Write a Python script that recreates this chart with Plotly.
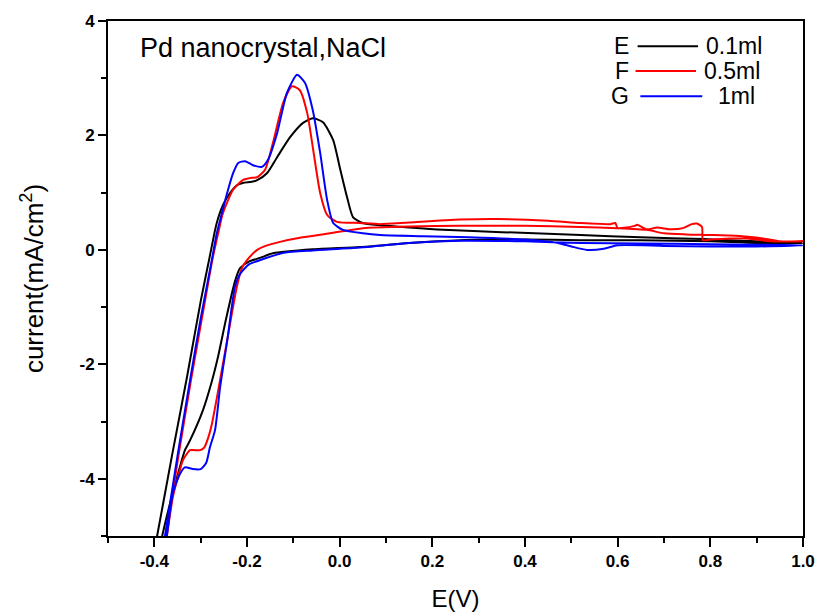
import plotly.graph_objects as go

# ---------------- data ----------------
# E : 0.1 ml  (black)
E_x = [-0.400, -0.394, -0.362, -0.329, -0.300, -0.280, -0.266, -0.252, -0.237, -0.222,
       -0.209, -0.190, -0.178, -0.157, -0.135, -0.107, -0.079, -0.058, -0.036, -0.014,
       0.000, 0.016, 0.029, 0.050, 0.087, 0.150, 0.223, 0.350, 0.520, 0.650,
       0.784, 0.900, 1.000,
       0.900, 0.800, 0.650, 0.520, 0.400, 0.260, 0.150, 0.044, -0.058, -0.144,
       -0.172, -0.195, -0.215, -0.226, -0.245, -0.262, -0.276, -0.295, -0.323, -0.334,
       -0.345, -0.362, -0.383, -0.389]
E_y = [-5.25, -5.00, -3.60, -2.20, -0.90, -0.10, 0.45, 0.78, 0.99, 1.13,
       1.17, 1.19, 1.22, 1.34, 1.62, 1.97, 2.22, 2.30, 2.23, 1.92,
       1.45, 0.92, 0.57, 0.47, 0.43, 0.39, 0.35, 0.31, 0.26, 0.22,
       0.19, 0.15, 0.12,
       0.12, 0.15, 0.17, 0.17, 0.18, 0.17, 0.12, 0.05, 0.01, -0.06,
       -0.14, -0.20, -0.32, -0.55, -1.20, -1.85, -2.30, -2.80, -3.33, -3.50,
       -3.80, -4.30, -5.00, -5.25]

# F : 0.5 ml  (red)
F_x = [-0.381, -0.375, -0.348, -0.321, -0.293, -0.275, -0.262, -0.252, -0.230, -0.209,
       -0.190, -0.178, -0.161, -0.144, -0.122, -0.103, -0.086, -0.070, -0.057, -0.042,
       -0.027, -0.006, 0.044, 0.087, 0.150, 0.260, 0.340, 0.450, 0.519, 0.584,
       0.595, 0.600, 0.637, 0.642, 0.663, 0.685, 0.713, 0.741, 0.760, 0.771,
       0.782, 0.784, 0.800, 0.880, 0.930, 1.000,
       0.950, 0.914, 0.843, 0.747, 0.700, 0.663, 0.600, 0.519, 0.400, 0.260,
       0.150, 0.050, -0.021, -0.080, -0.129, -0.160, -0.178, -0.200, -0.211, -0.222,
       -0.240, -0.262, -0.276, -0.284, -0.292, -0.301, -0.312, -0.323, -0.338, -0.345,
       -0.360, -0.373, -0.378]
F_y = [-5.25, -5.00, -3.60, -2.28, -1.00, -0.18, 0.30, 0.64, 1.05, 1.22,
       1.26, 1.27, 1.40, 1.87, 2.57, 2.86, 2.79, 2.39, 1.74, 0.99,
       0.61, 0.49, 0.47, 0.45, 0.48, 0.53, 0.54, 0.51, 0.47, 0.45,
       0.47, 0.38, 0.42, 0.44, 0.36, 0.39, 0.36, 0.38, 0.45, 0.46,
       0.40, 0.17, 0.18, 0.20, 0.15, 0.15,
       0.15, 0.20, 0.25, 0.27, 0.29, 0.35, 0.38, 0.40, 0.42, 0.42,
       0.41, 0.38, 0.29, 0.22, 0.14, 0.07, 0.00, -0.18, -0.32, -0.65,
       -1.45, -2.45, -3.05, -3.29, -3.45, -3.50, -3.50, -3.50, -3.67, -3.85,
       -4.32, -5.00, -5.25]

# G : 1 ml  (blue)
G_x = [-0.382, -0.377, -0.350, -0.323, -0.300, -0.276, -0.265, -0.258, -0.243, -0.230,
       -0.219, -0.204, -0.187, -0.168, -0.155, -0.135, -0.114, -0.092, -0.075, -0.058,
       -0.042, -0.027, -0.014, 0.007, 0.050, 0.087, 0.180, 0.280, 0.400, 0.470,
       0.500, 0.534, 0.570, 0.600, 0.700, 0.800, 0.900, 1.000,
       0.900, 0.800, 0.650, 0.520, 0.400, 0.260, 0.150, 0.044, -0.058, -0.120,
       -0.165, -0.195, -0.215, -0.226, -0.242, -0.258, -0.269, -0.280, -0.288, -0.300,
       -0.317, -0.334, -0.345, -0.360, -0.373, -0.378]
G_y = [-5.25, -5.00, -3.60, -2.28, -1.20, -0.18, 0.30, 0.52, 0.99, 1.34,
       1.52, 1.55, 1.48, 1.45, 1.57, 2.04, 2.74, 3.06, 2.92, 2.44,
       1.69, 0.87, 0.47, 0.35, 0.29, 0.26, 0.24, 0.22, 0.18, 0.12,
       0.06, 0.00, 0.02, 0.08, 0.07, 0.06, 0.06, 0.08,
       0.09, 0.10, 0.11, 0.12, 0.15, 0.16, 0.12, 0.04, -0.01, -0.05,
       -0.16, -0.25, -0.42, -0.65, -1.55, -2.40, -3.15, -3.45, -3.72, -3.83,
       -3.83, -3.80, -3.92, -4.25, -5.00, -5.25]

series_letters = ["E", "F", "G"]
series_names = ["0.1ml", "0.5ml", "1ml"]
series_colors = ["#000000", "#ff0000", "#0000ff"]

x_tickvals = [-0.4, -0.2, 0.0, 0.2, 0.4, 0.6, 0.8, 1.0]
x_ticktext = ["-0.4", "-0.2", "0.0", "0.2", "0.4", "0.6", "0.8", "1.0"]
y_tickvals = [-4, -2, 0, 2, 4]
y_ticktext = ["-4", "-2", "0", "2", "4"]

# ---------------- figure ----------------
FONT = "Liberation Sans, Arial, sans-serif"
fig = go.Figure()
for xs, ys, name, col in zip([E_x, F_x, G_x], [E_y, F_y, G_y], series_names, series_colors):
    fig.add_trace(go.Scatter(x=xs, y=ys, mode="lines", name=name,
                             line=dict(color=col, width=2, shape="spline", smoothing=0.6),
                             showlegend=False))

fig.update_layout(
    width=819, height=614,
    margin=dict(l=108, r=16, t=21, b=78),
    paper_bgcolor="white", plot_bgcolor="white",
    font=dict(family=FONT, color="black"),
)
fig.update_xaxes(
    range=[-0.5, 1.0], showgrid=False, zeroline=False, automargin=False,
    showline=True, linecolor="black", linewidth=2, mirror=True,
    ticks="outside", ticklen=9, tickwidth=2, tickcolor="black",
    tickvals=x_tickvals, ticktext=x_ticktext,
    tickfont=dict(size=17, weight="bold", family=FONT),
    minor=dict(dtick=0.1, tick0=0, ticks="outside", ticklen=5, tickwidth=2, tickcolor="black"),
    title=dict(text="E(V)", font=dict(size=24, family=FONT), standoff=20),
)
fig.update_yaxes(
    range=[-5, 4], showgrid=False, zeroline=False, automargin=False,
    showline=True, linecolor="black", linewidth=2, mirror=True,
    ticks="outside", ticklen=8, tickwidth=2, tickcolor="black",
    tickvals=y_tickvals, ticktext=y_ticktext,
    tickfont=dict(size=17, weight="bold", family=FONT),
    minor=dict(dtick=1, tick0=0, ticks="outside", ticklen=5, tickwidth=2, tickcolor="black"),
    title=dict(text="current(mA/cm<sup>2</sup>)", font=dict(size=26, family=FONT), standoff=28),
)

# in-plot label
fig.add_annotation(xref="paper", yref="paper", x=0.043, y=0.948, xanchor="left", yanchor="middle",
                   text="Pd nanocrystal,NaCl", showarrow=False, font=dict(size=27, family=FONT))

# custom legend: letter, line, label
row_y = [0.951, 0.903, 0.854]
line_x0 = [0.762, 0.759, 0.766]
line_x1 = [0.849, 0.846, 0.855]
label_x = [0.858, 0.855, 0.875]
for i in range(3):
    fig.add_annotation(xref="paper", yref="paper", x=0.752, y=row_y[i], xanchor="right", yanchor="middle",
                       text=series_letters[i], showarrow=False, font=dict(size=23, family=FONT))
    fig.add_shape(type="line", xref="paper", yref="paper", x0=line_x0[i], x1=line_x1[i],
                  y0=row_y[i], y1=row_y[i], line=dict(color=series_colors[i], width=2))
    fig.add_annotation(xref="paper", yref="paper", x=label_x[i], y=row_y[i], xanchor="left", yanchor="middle",
                       text=series_names[i], showarrow=False, font=dict(size=23, family=FONT))

# remove the default page margin so the figure fills the 819x614 window exactly
fig.write_html("out.html", config={"displayModeBar": False},
               post_script="document.body.style.margin='0';document.body.style.overflow='hidden';")
